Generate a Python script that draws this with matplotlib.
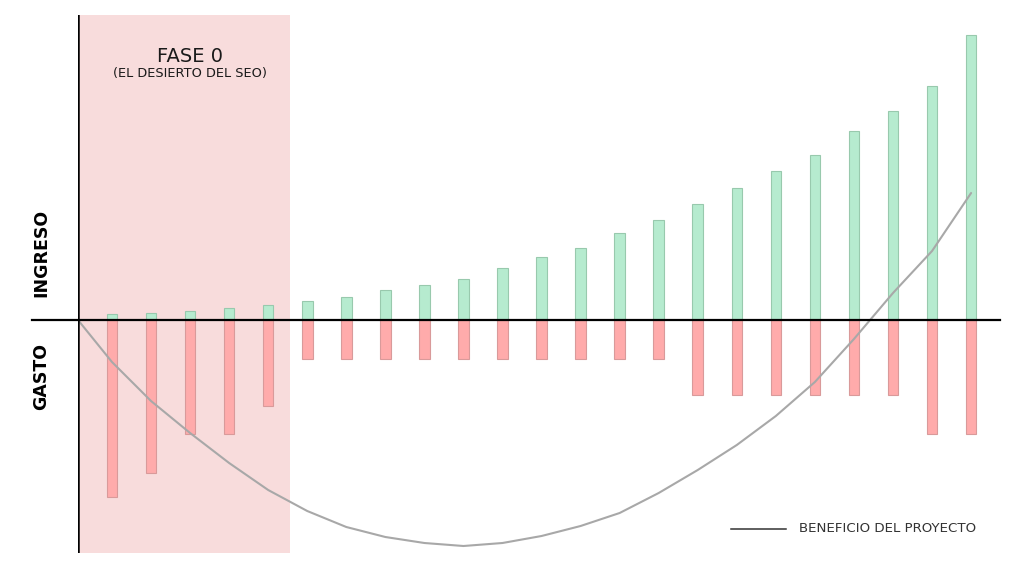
import matplotlib.pyplot as plt
from matplotlib.lines import Line2D

# bar positions (one bar per period) and values
periods = list(range(1, 24))
ingreso = [6.5, 7, 9, 12.5, 15, 19, 23, 30, 35, 41, 52, 63, 72, 87, 100,
           116, 132, 149, 165, 189, 209, 234, 285]
gasto = [177, 153, 114, 114, 86, 39, 39, 39, 39, 39, 39, 39, 39, 39, 39,
         75, 75, 75, 75, 75, 75, 114, 114]

# project profit curve, sampled along the drawn line
beneficio_x = [0.13, 1, 2, 3, 4, 5, 6, 7, 8, 9, 10, 11, 12, 13, 14, 15,
               16, 17, 18, 19, 20, 21, 22, 23]
beneficio = [0, -42, -81, -113, -143, -170, -191, -207, -217, -223, -226,
             -223, -216, -206, -193, -173, -150, -125, -96, -62, -19,
             27, 69, 127]

fase0_end = 5.56

plt.rcParams['font.family'] = ['DejaVu Sans']

fig = plt.figure(figsize=(10.24, 5.73), dpi=100)
ax = fig.add_axes([78 / 1024, 20 / 573, 922 / 1024, 538 / 573])

x_left, x_right = 0.13, 23.74
ax.set_xlim(x_left, x_right)
ax.set_ylim(-233, 305)

# Fase 0 shaded area
ax.axvspan(x_left, fase0_end, color='#f8dcdc', zorder=0, lw=0)

bar_w = 0.27
ax.bar(periods, ingreso, width=bar_w, color='#b6ebcf', edgecolor='#98c9ad',
       linewidth=0.8, zorder=2)
ax.bar(periods, [-g for g in gasto], width=bar_w, color='#ffabab',
       edgecolor='#d99a9a', linewidth=0.8, zorder=2)

ax.plot(beneficio_x, beneficio, color='#a8a8a8', lw=1.5, zorder=3,
        solid_capstyle='round', solid_joinstyle='round')

# axis lines
ax.plot([-0.05, 1.0], [0, 0], color='black', lw=1.6, zorder=4,
        transform=ax.get_yaxis_transform(), clip_on=False)
ax.axvline(x_left, color='black', lw=1.8, zorder=4)

for s in ax.spines.values():
    s.set_visible(False)
ax.set_xticks([])
ax.set_yticks([])

ax.text(3.0, 264, 'FASE 0', ha='center', va='center', fontsize=14,
        color='#1a1a1a')
ax.text(3.0, 246, '(EL DESIERTO DEL SEO)', ha='center', va='center',
        fontsize=9.3, color='#1a1a1a')

fig.text(41 / 1024, 1 - 253 / 573, 'INGRESO', rotation=90, ha='center',
         va='center', fontsize=12.5, fontweight='bold', color='black')
fig.text(41 / 1024, 1 - 377 / 573, 'GASTO', rotation=90, ha='center',
         va='center', fontsize=12.5, fontweight='bold', color='black')

# legend
fig.add_artist(Line2D([731 / 1024, 786 / 1024], [1 - 529 / 573] * 2,
                      color='#333333', lw=1.1))
fig.text(799 / 1024, 1 - 529 / 573, 'BENEFICIO DEL PROYECTO', ha='left',
         va='center', fontsize=9.6, color='#333333')

fig.savefig('out.png', dpi=100)
